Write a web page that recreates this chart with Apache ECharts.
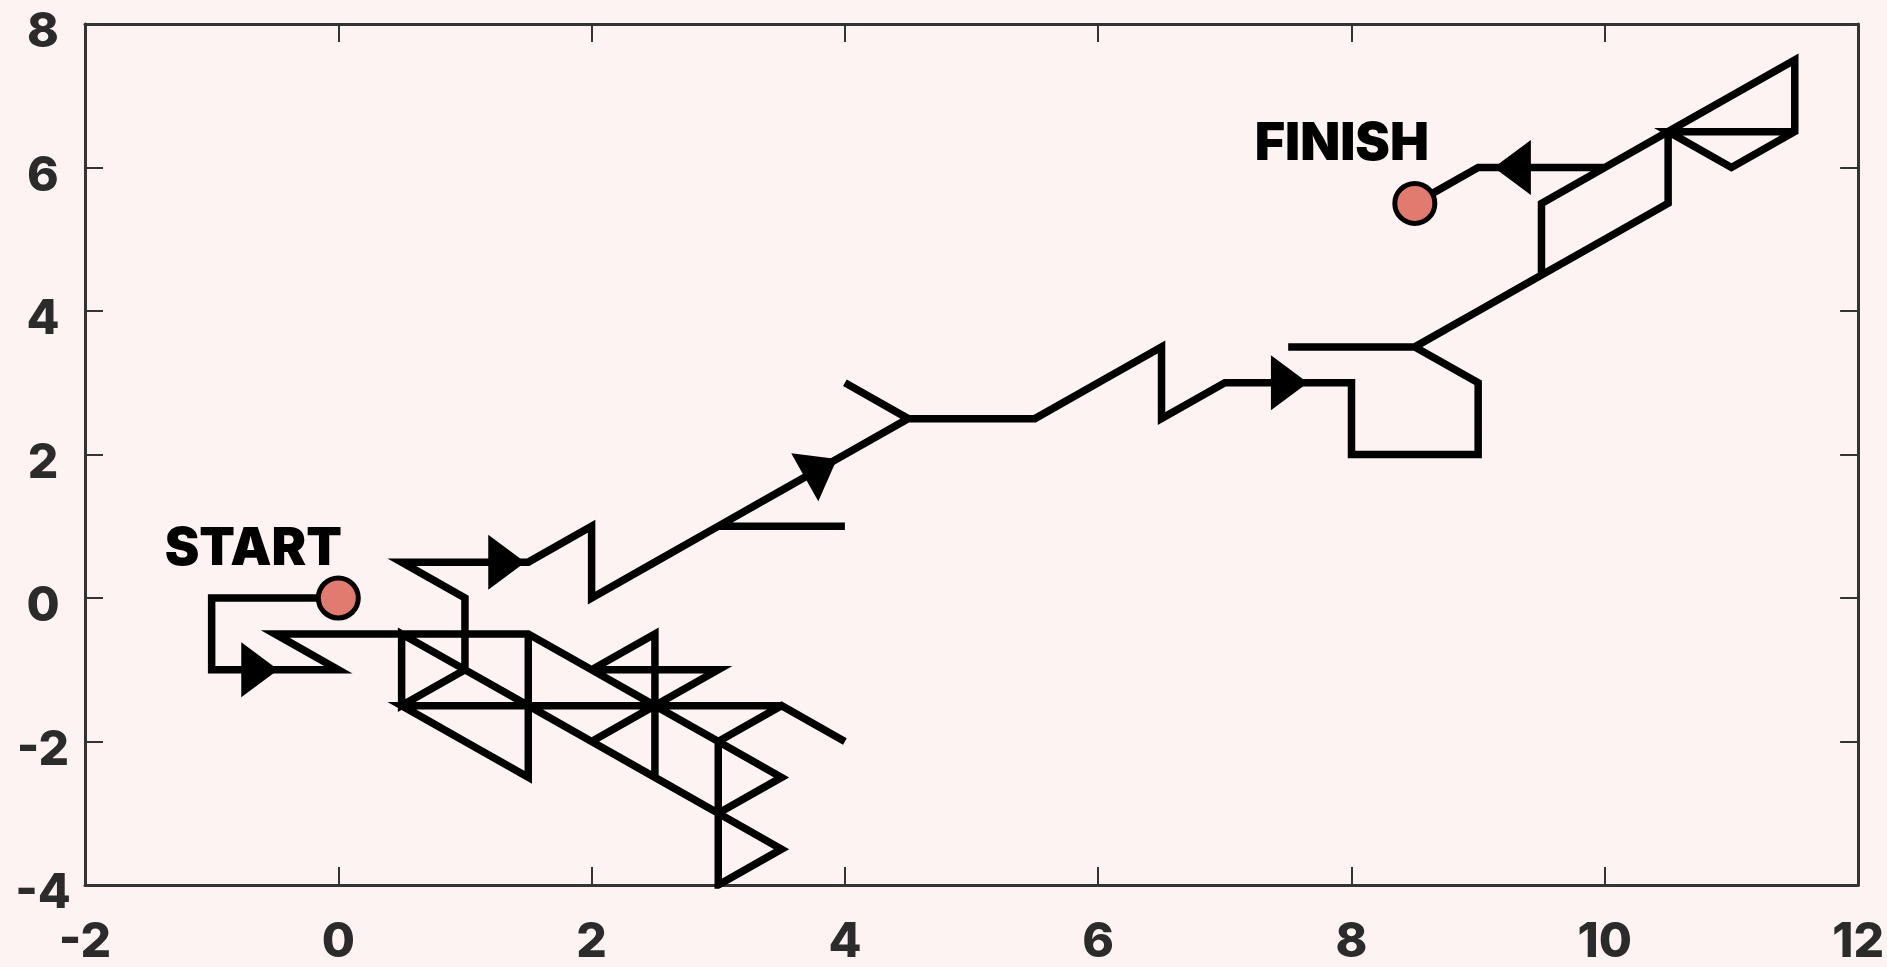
<!DOCTYPE html>
<html><head><meta charset="utf-8">
<script src="https://cdn.jsdelivr.net/npm/echarts@6/dist/echarts.min.js"></script>
<style>html,body{margin:0;padding:0;background:#fdf3f2;}#c{width:1887px;height:967px;}</style>
</head><body><div id="c"></div>
<script>
// ---- data ----
const xTicks = [-2, 0, 2, 4, 6, 8, 10, 12];
const yTicks = [-4, -2, 0, 2, 4, 6, 8];
const walk = [
  [0,0],[-1,0],[-1,-1],[0,-1],[-0.5,-0.5],[0.5,-0.5],
  [1.5,-0.5],[2,-1],[2.5,-0.5],[2.5,-1.5],[3,-1],[2,-1],[2.5,-1.5],[3.5,-1.5],[4,-2],[3.5,-1.5],
  [3,-2],[3.5,-2.5],[3,-3],[3.5,-3.5],[3,-4],[3,-3],[3,-2],[2.5,-1.5],[2.5,-2.5],[3,-3],
  [2.5,-2.5],[2,-2],[2.5,-1.5],[1.5,-1.5],[1.5,-2.5],[1,-2],[0.5,-1.5],[1.5,-1.5],[2,-2],
  [1.5,-1.5],[1.5,-0.5],[1.5,-1.5],[1,-1],[0.5,-0.5],[0.5,-1.5],[1,-1],[1,0],
  [0.5,0.5],[1.5,0.5],[2,1],[2,0],[2.5,0.5],[3,1],[4,1],[3,1],[3.5,1.5],[4,2],[4.5,2.5],
  [4,3],[4.5,2.5],[5.5,2.5],[6,3],[6.5,3.5],[6.5,2.5],[7,3],[8,3],[8,2],[9,2],[9,3],
  [8.5,3.5],[7.5,3.5],[8.5,3.5],[9,4],[9.5,4.5],
  [9.5,5.5],[10,6],[10.5,6.5],[11,7],[11.5,7.5],[11.5,6.5],[11,6],[10.5,6.5],[11.5,6.5],
  [10.5,6.5],[10.5,5.5],[10,5],[9.5,4.5],[9.5,5.5],[10,6],[9,6],[8.5,5.5]
];
const markerNames = ['START', 'FINISH'];
const arrowAt = [[-0.62,-1],[1.33,0.5],[3.81,1.81],[7.51,3],[9.27,6]];
const arrowHeading = [[1,0],[1,0],[1,1],[1,0],[-1,0]];

// ---- chart ----
const FONT = 'Inter, "Open Sans", "Noto Sans", sans-serif';
const chart = echarts.init(document.getElementById('c'), null, {renderer: 'canvas'});
const axisColor = '#333333';
function xAx(pos, showLabel) {
  return {
    type: 'value', position: pos,
    min: xTicks[0], max: xTicks[xTicks.length - 1], interval: xTicks[1] - xTicks[0],
    axisLine: {show: true, onZero: false, lineStyle: {color: axisColor, width: 3}},
    axisTick: {show: true, inside: true, length: 18, lineStyle: {color: axisColor, width: 2}},
    splitLine: {show: false},
    axisLabel: {show: showLabel, fontFamily: FONT, fontSize: 48, fontWeight: 800, color: '#2b2b2b', margin: 34}
  };
}
function yAx(pos, showLabel) {
  return {
    type: 'value', position: pos,
    min: yTicks[0], max: yTicks[yTicks.length - 1], interval: yTicks[1] - yTicks[0],
    axisLine: {show: true, onZero: false, lineStyle: {color: axisColor, width: 3}},
    axisTick: {show: true, inside: true, length: 18, lineStyle: {color: axisColor, width: 2}},
    splitLine: {show: false},
    axisLabel: {show: showLabel, fontFamily: FONT, fontSize: 48, fontWeight: 800, color: '#2b2b2b',
      margin: 42, align: 'center', verticalAlign: 'top', lineHeight: 18}
  };
}
const labelOffsets = [[-85, -49], [-73, -59]];
const markerData = markerNames.map((n, i) => ({
  name: n,
  value: i === 0 ? walk[0] : walk[walk.length - 1],
  label: {offset: labelOffsets[i]}
}));

const option = {
  backgroundColor: '#fdf3f2',
  animation: false,
  grid: {left: 85, right: 24, top: 24, bottom: 77},
  xAxis: [xAx('bottom', true), xAx('top', false)],
  yAxis: [yAx('left', true), yAx('right', false)],
  series: [
    {type: 'line', data: walk, symbol: 'none', showSymbol: false, silent: true, z: 2,
     lineStyle: {color: '#000', width: 7.5, join: 'miter', cap: 'butt', miterLimit: 10}},
    {type: 'scatter', id: 'arrows', data: arrowAt, symbol: 'triangle', symbolSize: [55, 37],
     itemStyle: {color: '#000', opacity: 1}, z: 3, silent: true},
    {type: 'scatter', data: markerData, symbol: 'circle', symbolSize: 40, z: 4, silent: true,
     itemStyle: {color: '#e27b6f', borderColor: '#000', borderWidth: 5, opacity: 1},
     label: {show: true, position: 'inside', formatter: '{b}', fontFamily: FONT, fontSize: 52,
       fontWeight: 900, color: '#000'}}
  ]
};
chart.setOption(option);

// rotate arrows to follow the walk direction on screen
const arrowData = arrowAt.map((p, i) => {
  const h = arrowHeading[i];
  const a = chart.convertToPixel({gridIndex: 0}, p);
  const b = chart.convertToPixel({gridIndex: 0}, [p[0] + h[0], p[1] + h[1]]);
  const ang = Math.atan2(-(b[1] - a[1]), b[0] - a[0]) * 180 / Math.PI;
  return {value: p, symbolRotate: ang - 90};
});
chart.setOption({series: [{id: 'arrows', data: arrowData}]});
</script>
</body></html>
